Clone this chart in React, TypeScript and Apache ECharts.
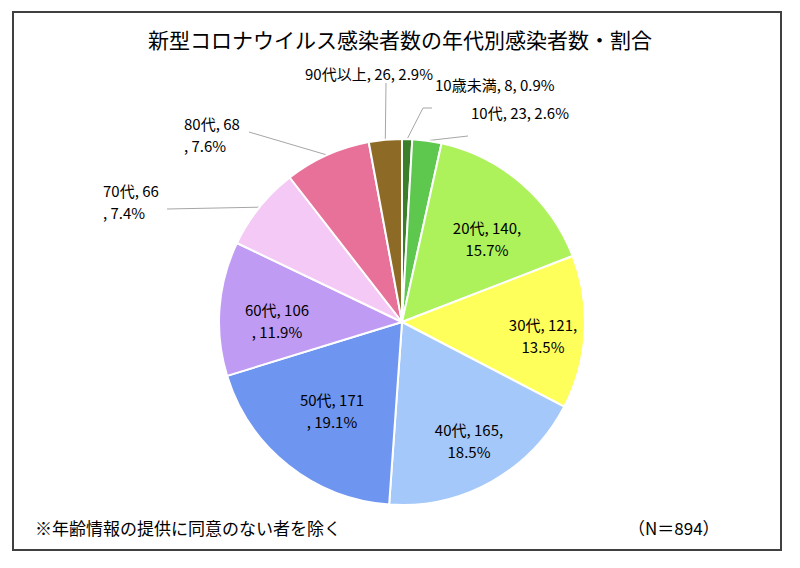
import { useEffect, useRef } from 'react';
import * as echarts from 'echarts';

const categories = ['10歳未満', '10代', '20代', '30代', '40代', '50代', '60代', '70代', '80代', '90代以上'];
const counts = [8, 23, 140, 121, 165, 171, 106, 66, 68, 26];
const sliceColors = ['#3b7f2b', '#5dc84d', '#adf15b', '#ffff5c', '#a5c8fa', '#6e96f1', '#c09bf4', '#f4c9f6', '#e8719a', '#8e6a27'];
const titleText = '新型コロナウイルス感染者数の年代別感染者数・割合';
const footnote = '※年齢情報の提供に同意のない者を除く';
const sampleNote = '（N＝894）';

const FONT = "'Noto Sans CJK JP', 'Noto Sans', sans-serif";

type Brk = 'none' | 'afterComma' | 'beforeComma';
type LabelSpec = {
  inside: boolean;
  brk: Brk;
  x: number;
  y: number;
  align: 'left' | 'right' | 'center';
  line?: number[][];
};

// label placement (layout only, per category index)
const labelSpecs: LabelSpec[] = [
  { inside: false, brk: 'none', x: 435, y: 84, align: 'left', line: [[423, 108], [432, 108]] },
  { inside: false, brk: 'none', x: 471, y: 112, align: 'left', line: [[468, 136], [468, 136]] },
  { inside: true, brk: 'afterComma', x: 487, y: 238, align: 'center' },
  { inside: true, brk: 'afterComma', x: 543, y: 335, align: 'center' },
  { inside: true, brk: 'afterComma', x: 469, y: 440, align: 'center' },
  { inside: true, brk: 'beforeComma', x: 332, y: 410, align: 'center' },
  { inside: true, brk: 'beforeComma', x: 277, y: 320, align: 'center' },
  { inside: false, brk: 'beforeComma', x: 103, y: 201, align: 'left', line: [[167, 209], [167, 209]] },
  { inside: false, brk: 'beforeComma', x: 184, y: 134, align: 'left', line: [[249, 132], [249, 132]] },
  { inside: false, brk: 'none', x: 433, y: 73, align: 'right', line: [[386, 83], [386, 83]] },
];

const total = counts.reduce((a, b) => a + b, 0);

function labelText(i: number): string {
  const pct = ((counts[i] / total) * 100).toFixed(1) + '%';
  const n = categories[i];
  const v = counts[i];
  const brk = labelSpecs[i].brk;
  if (brk === 'afterComma') return `${n}, ${v},\n${pct}`;
  if (brk === 'beforeComma') return `${n}, ${v}\n, ${pct}`;
  return `${n}, ${v}, ${pct}`;
}

export default function App() {
  const ref = useRef<HTMLDivElement>(null);

  useEffect(() => {
    if (!ref.current) return;
    const chart = echarts.init(ref.current, undefined, { renderer: 'svg' });
    const data = categories.map((name, i) => ({
      name,
      value: counts[i],
      itemStyle: { color: sliceColors[i] },
      label: {
        position: labelSpecs[i].inside ? 'inside' : 'outside',
        formatter: () => labelText(i),
      },
      labelLine: { show: !labelSpecs[i].inside },
    }));

    chart.setOption({
      animation: false,
      backgroundColor: '#ffffff',
      title: {
        text: titleText,
        left: 'center',
        top: 28,
        padding: 0,
        textStyle: { fontFamily: FONT, fontSize: 21, fontWeight: 'normal', color: '#000000' },
      },
      graphic: [
        {
          type: 'rect',
          shape: { x: 13, y: 12, width: 768, height: 538 },
          style: { fill: 'none', stroke: '#404040', lineWidth: 2 },
          silent: true,
        },
        {
          type: 'text',
          x: 35,
          y: 527,
          style: {
            text: footnote,
            fontFamily: FONT,
            fontSize: 17,
            fill: '#000000',
            textAlign: 'left',
            textVerticalAlign: 'middle',
          },
        },
        {
          type: 'text',
          x: 628,
          y: 527,
          style: {
            text: sampleNote,
            fontFamily: FONT,
            fontSize: 17,
            fill: '#000000',
            textAlign: 'left',
            textVerticalAlign: 'middle',
          },
        },
      ],
      series: [
        {
          type: 'pie',
          center: [402, 322],
          radius: 183,
          startAngle: 90,
          clockwise: true,
          avoidLabelOverlap: false,
          itemStyle: { borderColor: '#ffffff', borderWidth: 2 },
          label: {
            show: true,
            fontFamily: FONT,
            fontSize: 15,
            lineHeight: 22,
            color: '#000000',
          },
          labelLine: {
            show: true,
            smooth: false,
            length: 10,
            length2: 10,
            lineStyle: { color: '#a6a6a6', width: 1 },
          },
          labelLayout: (params: any) => {
            const spec = labelSpecs[params.dataIndex];
            const res: any = {
              x: spec.x,
              y: spec.y,
              align: spec.align,
              verticalAlign: 'middle',
            };
            if (!spec.inside && spec.line && params.labelLinePoints) {
              const p0 = params.labelLinePoints[0];
              res.labelLinePoints = [p0, spec.line[0], spec.line[1]];
            }
            return res;
          },
          emphasis: { disabled: true },
          data,
        },
      ],
    });

    return () => {
      chart.dispose();
    };
  }, []);

  return (
    <div
      ref={ref}
      style={{ position: 'fixed', left: 0, top: 0, width: 800, height: 568, background: '#ffffff' }}
    />
  );
}
